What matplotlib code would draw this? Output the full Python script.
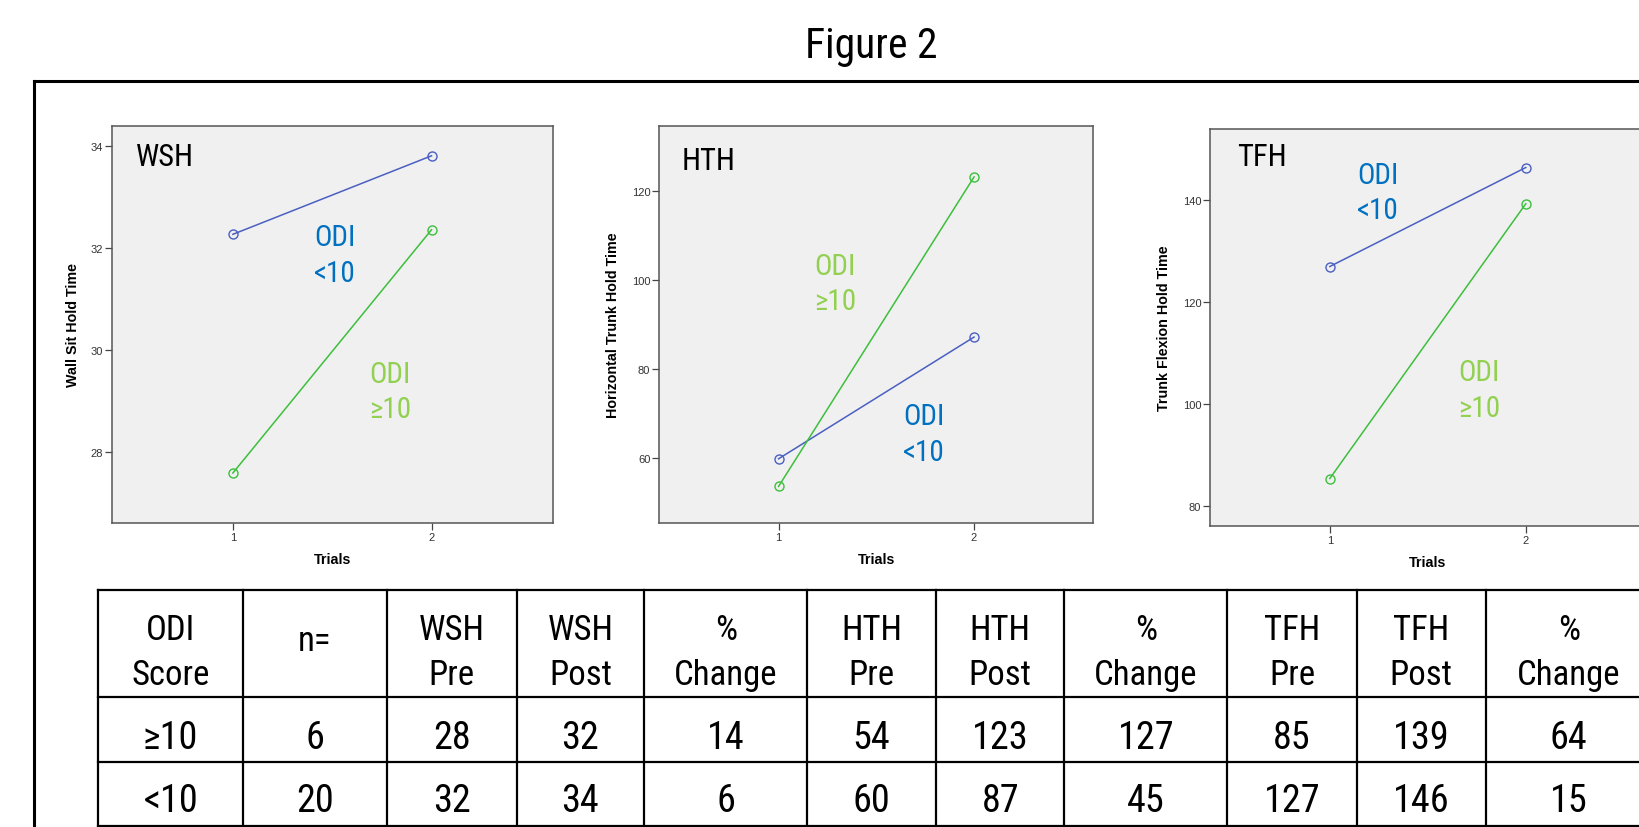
import matplotlib
matplotlib.use('Agg')
import matplotlib.pyplot as plt
from matplotlib import font_manager

_installed = {f.name for f in font_manager.fontManager.ttflist}
_narrow_candidates = ['Liberation Sans Narrow', 'Arial Narrow', 'Roboto Condensed',
                      'Open Sans Condensed', 'Noto Sans Condensed']
NARROW = [n for n in _narrow_candidates if n in _installed] + ['Liberation Sans', 'DejaVu Sans']
REG = ['Liberation Sans', 'DejaVu Sans']

# ---------------- data ----------------
trials = [1, 2]
wsh_lt10 = [32.26, 33.80]
wsh_ge10 = [27.58, 32.35]
hth_lt10 = [59.9, 87.2]
hth_ge10 = [53.7, 123.1]
tfh_lt10 = [126.9, 146.3]
tfh_ge10 = [85.35, 139.2]

wsh_yticks = [28, 30, 32, 34]
hth_yticks = [60, 80, 100, 120]
tfh_yticks = [80, 100, 120, 140]

panel_names = ['WSH', 'HTH', 'TFH']
y_titles = ['Wall Sit Hold Time', 'Horizontal Trunk Hold Time', 'Trunk Flexion Hold Time']
x_title = 'Trials'
lab_lt10 = 'ODI\n<10'
lab_ge10 = 'ODI\n\u226510'

table_header = ['ODI\nScore', 'n=', 'WSH\nPre', 'WSH\nPost', '%\nChange',
                'HTH\nPre', 'HTH\nPost', '%\nChange', 'TFH\nPre', 'TFH\nPost', '%\nChange']
row_ge10 = ['\u226510', '6', '28', '32', '14', '54', '123', '127', '85', '139', '64']
row_lt10 = ['<10', '20', '32', '34', '6', '60', '87', '45', '127', '146', '15']

# ---------------- style ----------------
W, H = 1640, 828
BLUE_LINE = '#4a5fc1'
GREEN_LINE = '#3cbf3c'
BLUE_TXT = '#0070C0'
GREEN_TXT = '#92D050'

fig = plt.figure(figsize=(W / 100, H / 100), dpi=100)
fig.patch.set_facecolor('white')

# pixel overlay for frame and table
ov = fig.add_axes([0, 0, 1, 1])
ov.set_xlim(0, W)
ov.set_ylim(H, 0)
ov.axis('off')

ov.plot([34, W + 5], [81.7, 81.7], color='black', lw=2.2, solid_capstyle='projecting')
ov.plot([34, 34], [81.7, H + 5], color='black', lw=2.2, solid_capstyle='projecting')

fig.text(871 / W, 1 - 58.3 / H, 'Figure 2', ha='center', va='baseline',
         fontsize=30, family=NARROW)

# panels: pixel rects (left, top, right, bottom) and y-limits
rects = [(111.7, 126.7, 552.7, 524.0), (659.3, 126.7, 1093.3, 524.0), (1210.3, 130.0, 1645.3, 526.7)]
ylims = [(26.6, 34.39), (45.5, 134.6), (76.1, 153.85)]
series_lt = [wsh_lt10, hth_lt10, tfh_lt10]
series_ge = [wsh_ge10, hth_ge10, tfh_ge10]
yticks = [wsh_yticks, hth_yticks, tfh_yticks]
# label positions in pixels (left x, last-line baseline y)
name_pos = [(136, 165.7), (681.7, 170.0), (1236.7, 165.7)]
lt_pos = [(314, 281.7), (903, 460.7), (1357, 219.0)]
ge_pos = [(369, 418.3), (814, 310.0), (1458, 416.7)]
ylab_x = [72.7, 613.0, 1164.3]

for i in range(3):
    l, t, r, b = rects[i]
    ax = fig.add_axes([l / W, 1 - b / H, (r - l) / W, (b - t) / H])
    ax.set_facecolor('#F0F0F0')
    ax.plot(trials, series_lt[i], color=BLUE_LINE, lw=1.1, marker='o', ms=6.5,
            mfc='none', mec=BLUE_LINE, mew=1.0)
    ax.plot(trials, series_ge[i], color=GREEN_LINE, lw=1.1, marker='o', ms=6.5,
            mfc='none', mec=GREEN_LINE, mew=1.0)
    ax.set_xlim(0.39, 2.61)
    ax.set_ylim(*ylims[i])
    ax.set_xticks(trials)
    ax.set_yticks(yticks[i])
    ax.tick_params(axis='both', direction='out', length=5, width=0.9, color='#444444',
                   labelsize=8, labelcolor='#333333', pad=1.5)
    for lbl in ax.get_xticklabels() + ax.get_yticklabels():
        lbl.set_family(REG)
    for sp in ax.spines.values():
        sp.set_color('#555555')
        sp.set_linewidth(1.1)
    ax.set_ylabel(y_titles[i], fontsize=10.3, fontweight='bold', family=REG, va='center')
    ax.yaxis.set_label_coords((ylab_x[i] - l) / (r - l), 0.5)
    ax.set_xlabel(x_title, fontsize=10.3, fontweight='bold', family=REG, va='center')
    ax.xaxis.set_label_coords(0.5, -36.2 / (b - t))

    def axpos(px, py):
        return ((px - l) / (r - l), (b - py) / (b - t))

    ax.text(*axpos(*name_pos[i]), panel_names[i], transform=ax.transAxes,
            ha='left', va='baseline', fontsize=22, family=NARROW, color='black')
    ax.text(*axpos(*lt_pos[i]), lab_lt10, transform=ax.transAxes, ha='left',
            va='baseline', fontsize=21, family=NARROW, color=BLUE_TXT, linespacing=1.34)
    ax.text(*axpos(*ge_pos[i]), lab_ge10, transform=ax.transAxes, ha='left',
            va='baseline', fontsize=21, family=NARROW, color=GREEN_TXT, linespacing=1.34)

# ---------------- table ----------------
col_lines = [98.3, 242.7, 386.7, 516.7, 644.3, 807.3, 936.0, 1064.5, 1227.3, 1356.7, 1485.7, 1652.0]
row_lines = [590.7, 698.3, 762.7, 826.7]
for x in col_lines:
    ov.plot([x, x], [row_lines[0], row_lines[-1]], color='black', lw=1.6, solid_capstyle='projecting')
for y in row_lines:
    ov.plot([col_lines[0], col_lines[-1]], [y, y], color='black', lw=1.6, solid_capstyle='projecting')

hdr_base = (640.0, 685.0)
single_base = 651.5
data_base = (749.0, 812.5)
for j in range(len(table_header)):
    cx = (col_lines[j] + col_lines[j + 1]) / 2
    parts = table_header[j].split('\n')
    if len(parts) == 2:
        for k, p in enumerate(parts):
            ov.text(cx, hdr_base[k], p, ha='center', va='baseline', fontsize=25, family=NARROW)
    else:
        ov.text(cx, single_base, parts[0], ha='center', va='baseline', fontsize=25, family=NARROW)
    ov.text(cx, data_base[0], row_ge10[j], ha='center', va='baseline', fontsize=27.5, family=NARROW)
    ov.text(cx, data_base[1], row_lt10[j], ha='center', va='baseline', fontsize=27.5, family=NARROW)

fig.savefig('out.png', dpi=100)
